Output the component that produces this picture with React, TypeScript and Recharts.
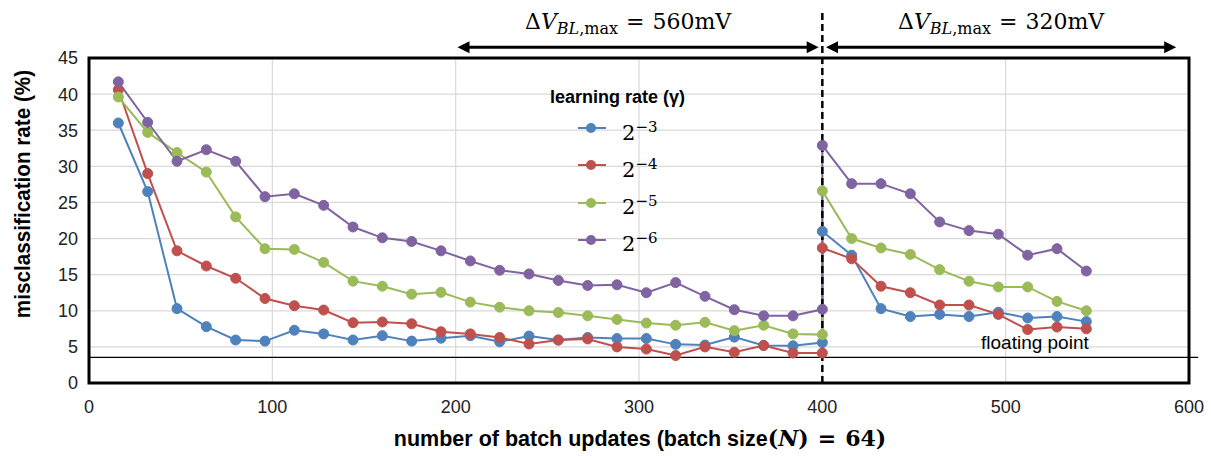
import React from 'react';
import { LineChart, Line, XAxis, YAxis, CartesianGrid, ReferenceLine, ReferenceArea } from 'recharts';

// number of batch updates; 400 appears twice (end of first run, start of second)
const batches = [
    16, 32, 48, 64, 80, 96, 112, 128, 144, 160, 176, 192, 208, 224, 240, 256, 272, 288, 304, 320, 336, 352, 368, 384, 400,
    400, 416, 432, 448, 464, 480, 496, 512, 528, 544
];

const rate3 = [
    36.0, 26.5, 10.3, 7.8, 5.95, 5.8, 7.3, 6.8, 5.95, 6.55, 5.8, 6.2, 6.55, 5.7, 6.5, 5.95, 6.3, 6.15, 6.15, 5.35, 5.25, 6.35, 5.2, 5.15, 5.6,
    21.0, 17.7, 10.3, 9.2, 9.5, 9.2, 9.8, 9.0, 9.2, 8.5
];
const rate4 = [
    40.6, 29.0, 18.3, 16.2, 14.5, 11.7, 10.7, 10.1, 8.35, 8.45, 8.2, 7.1, 6.8, 6.3, 5.4, 5.95, 6.1, 5.0, 4.7, 3.8, 5.0, 4.25, 5.2, 4.15, 4.15,
    18.7, 17.2, 13.4, 12.5, 10.8, 10.8, 9.5, 7.4, 7.75, 7.5
];
const rate5 = [
    39.6, 34.7, 31.9, 29.2, 23.0, 18.6, 18.5, 16.7, 14.1, 13.4, 12.3, 12.55, 11.2, 10.5, 10.0, 9.75, 9.3, 8.8, 8.3, 8.0, 8.4, 7.25, 8.0, 6.8, 6.7,
    26.6, 20.0, 18.7, 17.8, 15.7, 14.1, 13.3, 13.3, 11.3, 10.0
];
const rate6 = [
    41.7, 36.1, 30.7, 32.3, 30.7, 25.8, 26.2, 24.6, 21.6, 20.1, 19.6, 18.3, 16.9, 15.6, 15.1, 14.2, 13.5, 13.6, 12.5, 13.9, 12.0, 10.15, 9.3, 9.3, 10.2,
    32.9, 27.6, 27.6, 26.2, 22.3, 21.1, 20.6, 17.7, 18.6, 15.5
];

const xTicks = [0, 100, 200, 300, 400, 500, 600];
const yTicks = [0, 5, 10, 15, 20, 25, 30, 35, 40, 45];
const floatingPoint = 3.55;

const SERIES = [
    { key: 'r3', exp: '3', color: '#4F81BD' },
    { key: 'r4', exp: '4', color: '#C0504D' },
    { key: 'r5', exp: '5', color: '#9BBB59' },
    { key: 'r6', exp: '6', color: '#8064A2' },
];

const data = batches.map((b, i) => ({
    batch: b,
    r3: rate3[i],
    r4: rate4[i],
    r5: rate5[i],
    r6: rate6[i],
}));

const SANS = "'Liberation Sans', Arial, sans-serif";
const SERIF = "'DejaVu Serif', 'Liberation Serif', serif";

// double-headed arrow drawn between the reference line end points
const Arrow = (props: any) => {
    const { x1, y1, x2, y2 } = props;
    const h = 12;
    const w = 6;
    return (
        <g>
            <line x1={x1 + h - 2} y1={y1} x2={x2 - h + 2} y2={y2} stroke="#000" strokeWidth={3} />
            <polygon points={`${x1},${y1} ${x1 + h},${y1 - w} ${x1 + h},${y1 + w}`} fill="#000" />
            <polygon points={`${x2},${y2} ${x2 - h},${y2 - w} ${x2 - h},${y2 + w}`} fill="#000" />
        </g>
    );
};

const VLabel = ({ value, left }: { value: string; left: number }) => (
    <div style={{ position: 'absolute', left, top: 10, lineHeight: '24px', fontFamily: SERIF, fontSize: 22, color: '#000', whiteSpace: 'nowrap' }}>
        Δ<i>V</i><sub style={{ fontSize: 16, lineHeight: 0 }}><i>BL</i>,max</sub>
        <span style={{ margin: '0 8px' }}>=</span>{value}mV
    </div>
);

export default function App() {
    return (
        <div style={{ position: 'absolute', left: 0, top: 0, width: 1211, height: 456, background: '#fff' }}>
            <LineChart width={1211} height={456} data={data} margin={{ top: 58, right: 22, bottom: 43, left: 29 }}>
                <CartesianGrid stroke="#d9d9d9" strokeWidth={1.2} />
                <XAxis
                    dataKey="batch"
                    type="number"
                    domain={[0, 600]}
                    ticks={xTicks}
                    tickLine={false}
                    axisLine={false}
                    tickSize={0}
                    tickMargin={17}
                    height={30}
                    tick={{ fill: '#222', fontSize: 18, fontFamily: SANS }}
                />
                <YAxis
                    type="number"
                    domain={[0, 45]}
                    ticks={yTicks}
                    tickLine={false}
                    axisLine={false}
                    tickSize={0}
                    tickMargin={11}
                    width={60}
                    tick={{ fill: '#222', fontSize: 18, fontFamily: SANS }}
                />
                <ReferenceLine
                    segment={[{ x: 0, y: floatingPoint }, { x: 605, y: floatingPoint }]}
                    stroke="#000"
                    strokeWidth={1.2}
                    ifOverflow="visible"
                />
                {SERIES.map(s => (
                    <Line
                        key={s.key}
                        type="linear"
                        dataKey={s.key}
                        stroke={s.color}
                        strokeWidth={2}
                        dot={{ r: 5, fill: s.color, stroke: s.color, strokeWidth: 1 }}
                        isAnimationActive={false}
                    />
                ))}
                <ReferenceLine
                    segment={[{ x: 400, y: 0 }, { x: 400, y: 51.5 }]}
                    stroke="#000"
                    strokeWidth={2.5}
                    strokeDasharray="7 4"
                    ifOverflow="visible"
                />
                <ReferenceLine
                    segment={[{ x: 201, y: 46.5 }, { x: 398, y: 46.5 }]}
                    ifOverflow="visible"
                    shape={Arrow}
                />
                <ReferenceLine
                    segment={[{ x: 402, y: 46.5 }, { x: 593, y: 46.5 }]}
                    ifOverflow="visible"
                    shape={Arrow}
                />
                <ReferenceArea x1={0} x2={600} y1={0} y2={45} fill="none" stroke="#000" strokeWidth={3} ifOverflow="visible" />
            </LineChart>

            <VLabel value="560" left={525} />
            <VLabel value="320" left={898} />

            <div style={{ position: 'absolute', left: 981, top: 332, fontFamily: SANS, fontSize: 19, color: '#000' }}>
                floating point
            </div>

            {/* legend */}
            <div style={{ position: 'absolute', left: 550, top: 86, fontFamily: SANS }}>
                <div style={{ fontSize: 18, fontWeight: 'bold', whiteSpace: 'nowrap', lineHeight: '22px' }}>
                    learning rate (γ)
                </div>
                {SERIES.map((s, i) => (
                    <div key={s.key} style={{ position: 'absolute', left: 27, top: 27 + i * 37.3, display: 'flex', alignItems: 'center', height: 30 }}>
                        <svg width={30} height={12}>
                            <line x1={1} y1={6} x2={29} y2={6} stroke={s.color} strokeWidth={2} />
                            <circle cx={14} cy={6} r={5} fill={s.color} />
                        </svg>
                        <span style={{ marginLeft: 15, fontFamily: SERIF, fontSize: 21, whiteSpace: 'nowrap', marginTop: 6 }}>
                            2<sup style={{ fontSize: 15 }}>−{s.exp}</sup>
                        </span>
                    </div>
                ))}
            </div>

            <div
                style={{
                    position: 'absolute', left: 23, top: 194, transform: 'translate(-50%, -50%) rotate(-90deg) scaleX(0.94)',
                    fontFamily: SANS, fontSize: 22, fontWeight: 'bold', whiteSpace: 'nowrap', color: '#000'
                }}
            >
                misclassification rate (%)
            </div>
            <div
                style={{
                    position: 'absolute', left: 640, top: 438, transform: 'translate(-50%, -50%)',
                    fontFamily: SANS, fontSize: 21.5, fontWeight: 'bold', whiteSpace: 'nowrap', color: '#000'
                }}
            >
                number of batch updates (batch size
                <span style={{ fontFamily: SERIF, fontSize: 22 }}>
                    (<i>N</i>)<span style={{ margin: '0 9px' }}>=</span>64)
                </span>
            </div>
        </div>
    );
}
